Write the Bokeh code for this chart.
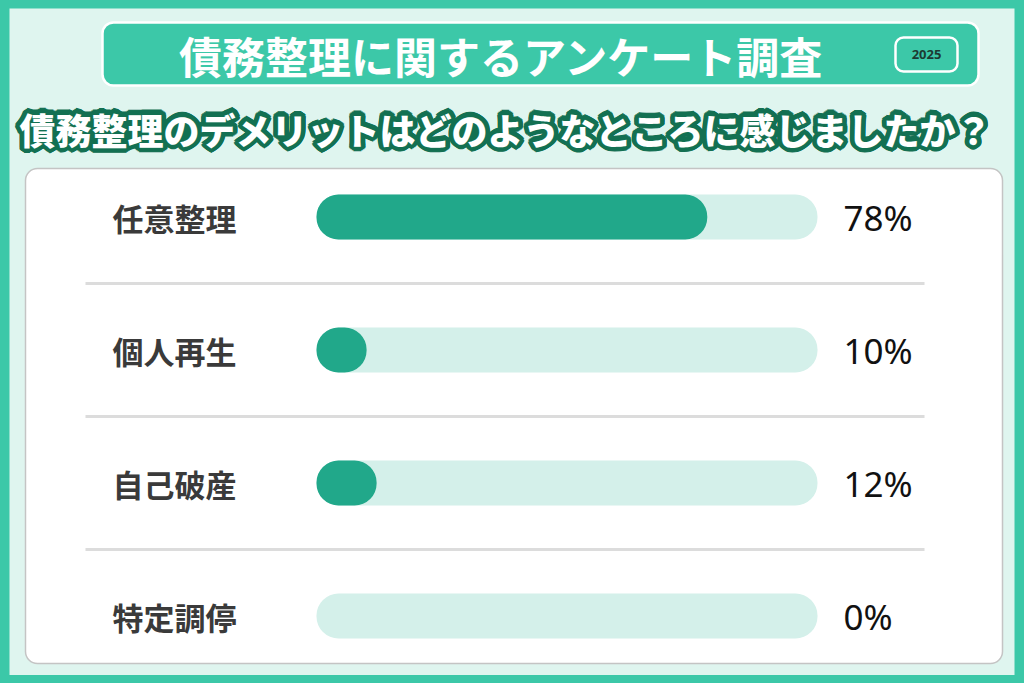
from bokeh.plotting import figure
from bokeh.models import Range1d, ColumnDataSource
from bokeh.core.properties import value
from bokeh.embed import file_html
from bokeh.resources import INLINE
import math

# ---- data ----
title_text = "債務整理に関するアンケート調査"
year_text = "2025"
question_text = "債務整理のデメリットはどのようなところに感じましたか？"
categories = ["任意整理", "個人再生", "自己破産", "特定調停"]
percents = [78, 10, 12, 0]

# ---- colours ----
TEAL = "#3cc8a8"
MINT_BG = "#dff5ef"
TRACK = "#d4f0ea"
FILL = "#21a88a"
DARK_GREEN = "#137052"
JP = value("Noto Sans CJK JP")
JP_HEAVY = value("Noto Sans CJK JP Black, Noto Sans CJK JP")

W, H = 1008, 667
p = figure(width=W, height=H, output_backend="svg", toolbar_location=None,
           x_range=Range1d(8, 1016), y_range=Range1d(675, 8),
           min_border=0, outline_line_color=None,
           background_fill_color=TEAL, border_fill_color=TEAL)
p.axis.visible = False
p.grid.visible = False

# inner mint panel
p.quad(left=[9], right=[1014], top=[7], bottom=[675], fill_color=MINT_BG, line_color=None)

# title box
p.quad(left=[102], right=[978], top=[22], bottom=[85], fill_color=TEAL,
       line_color="white", line_width=2.5, border_radius=11)
p.text(x=[501], y=[54], text=[title_text], text_color="white", text_font=JP,
       text_font_style="bold", text_font_size="43px", text_align="center",
       text_baseline="middle")

# year badge
p.quad(left=[895], right=[957], top=[37], bottom=[71], fill_color=TEAL,
       line_color="white", line_width=2.5, border_radius=8)
p.text(x=[926], y=[54], text=[year_text], text_color="#1d3b33", text_font=value("Open Sans"),
       text_font_style="bold", text_font_size="13px", text_align="center",
       text_baseline="middle")

# question subtitle: thick dark-green outline made from offset copies, white on top
n_off = 16
r_off = 4.2
outline = ColumnDataSource(dict(
    x=[505] * n_off, y=[128] * n_off, t=[question_text] * n_off,
    xo=[r_off * math.cos(2 * math.pi * k / n_off) for k in range(n_off)],
    yo=[r_off * math.sin(2 * math.pi * k / n_off) for k in range(n_off)],
))
p.text(x="x", y="y", text="t", x_offset="xo", y_offset="yo", source=outline,
       text_color=DARK_GREEN, text_font=JP_HEAVY, text_font_style="bold", text_font_size="36px",
       text_align="center", text_baseline="middle", text_outline_color=DARK_GREEN)
p.text(x=[505], y=[128], text=[question_text], text_color="white", text_font=JP_HEAVY,
       text_font_style="bold", text_font_size="36px", text_align="center",
       text_baseline="middle")

# white card
p.quad(left=[25], right=[1002], top=[168], bottom=[663], fill_color="white",
       line_color="#c4c4c4", line_width=1.5, border_radius=12)

# rows
row_y = [216.5, 349.5, 482.5, 615.5]
track_left, track_right = 316, 817
track_w = track_right - track_left
src = ColumnDataSource(dict(
    y=row_y,
    cat=categories,
    lbl=[f"{v}%" for v in percents],
    track_left=[track_left] * 4,
    track_right=[track_right] * 4,
    label_x=[112] * 4,
    pct_x=[843] * 4,
))

# separators
for sy in [283, 416, 549]:
    p.segment(x0=[85], y0=[sy], x1=[924], y1=[sy], line_color="#dcdcdc", line_width=3)

p.hbar(y="y", left="track_left", right="track_right", height=45, source=src,
       fill_color=TRACK, line_color=None, border_radius=22)
nz = ColumnDataSource(dict(
    y=[y for y, v in zip(row_y, percents) if v > 0],
    left=[track_left for v in percents if v > 0],
    right=[track_left + track_w * v / 100 for v in percents if v > 0],
))
p.hbar(y="y", left="left", right="right", height=45, source=nz,
       fill_color=FILL, line_color=None, border_radius=22)

p.text(x="label_x", y="y", text="cat", source=src, text_color="#3a3a3a", text_font=JP,
       text_font_style="bold", text_font_size="31px", text_baseline="middle")
p.text(x="pct_x", y="y", text="lbl", source=src, text_color="#111111",
       text_font=value("Noto Sans"), text_font_size="35px", text_baseline="middle")

tmpl = ("{% block preamble %}<style>"
        "html, body { background: #3cc8a8 !important; }"
        "html body { padding: 8px !important; box-sizing: border-box !important; }"
        "</style>{% endblock %}")
open("out.html", "w").write(file_html(p, INLINE, template=tmpl))
